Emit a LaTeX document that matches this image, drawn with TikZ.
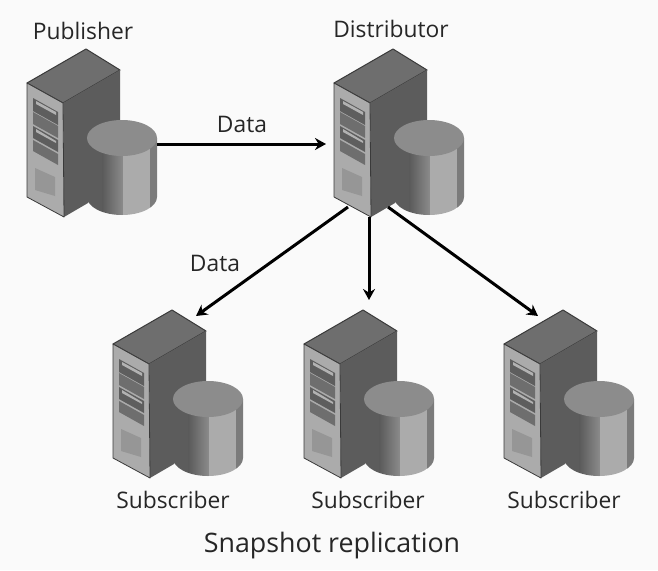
\documentclass[tikz,border=0pt]{standalone}
\usepackage{fontspec}
\setmainfont{Open Sans}
\usetikzlibrary{arrows.meta}
\definecolor{bgc}{HTML}{FAFAFA}
\definecolor{topc}{HTML}{6E6E6E}
\definecolor{sidec}{HTML}{5C5C5C}
\definecolor{frontc}{HTML}{ABABAB}
\definecolor{slotc}{HTML}{5E5E5E}
\definecolor{edgec}{HTML}{3A3A3A}
\definecolor{cyltop}{HTML}{8C8C8C}
\definecolor{cyldark}{HTML}{5A5A5A}
\definecolor{cyllight}{HTML}{ABABAB}
\tikzset{
  lbl/.style={font=\fontsize{22.8}{27}\selectfont, text=black!85, inner sep=0pt},
  flow/.style={line width=3pt, black, -{Stealth[length=11pt,width=12pt]}},
  server/.pic={
    % tower
    \fill[topc,draw=edgec,line width=1pt,line join=round] (0,34) -- (59,0) -- (93,21) -- (36,54) -- cycle;
    \fill[sidec] (36,54) -- (93,21) -- (93,110) -- (61,154) -- (37,168) -- cycle;
    \fill[frontc,draw=edgec,line width=.8pt,line join=round] (0,34) -- (36,54) -- (37,168) -- (0,148) -- cycle;
    % drive slots
    \fill[slotc] (6,49) -- (31,63) -- (31,76) -- (6,62) -- cycle;
    \fill[slotc!90] (6,63) -- (31,77) -- (31,89) -- (6,75) -- cycle;
    \fill[slotc] (6,77) -- (31,91) -- (31,103) -- (6,89) -- cycle;
    \fill[slotc!90] (6,91) -- (31,105) -- (31,116) -- (6,102) -- cycle;
    \fill[white!70!black] (9,52) -- (29,63) -- (29,66) -- (9,55) -- cycle;
    \fill[white!70!black] (9,80) -- (29,92) -- (29,94) -- (9,83) -- cycle;
    % vent
    \fill[slotc!65] (8,119) -- (28,128) -- (28,147) -- (8,141) -- cycle;
    % cylinder
    \begin{scope}
      \clip (60,89) -- (130,89) -- (130,148) arc[start angle=0,end angle=180,x radius=35,y radius=18] -- cycle;
      \fill[sidec] (55,85) rectangle (75,170);
      \shade[left color=cyldark,right color=cyldark!70] (75,85) rectangle (96,170);
      \fill[cyllight] (96,85) rectangle (123,170);
      \fill[cyldark!80] (123,85) rectangle (132,170);
    \end{scope}
    \fill[cyltop] (95,89) ellipse[x radius=35,y radius=18];
    % connection points
    \coordinate (-out) at (130,95);
    \coordinate (-in) at (-8,95);
    \coordinate (-sw) at (14,158);
    \coordinate (-s) at (35,168);
    \coordinate (-se) at (54,158);
    \coordinate (-nw) at (83,6);
    \coordinate (-n) at (65,-10);
    \coordinate (-ne) at (34,6);
  }
}
\begin{document}
\begin{tikzpicture}[x=1pt,y=-1pt]
\path[use as bounding box,fill=bgc] (0,0) rectangle (658,570);
\pic (pub)  at (27,49)  {server};
\pic (dist) at (334,49) {server};
\pic (sa)   at (113,310) {server};
\pic (sb)   at (304,310) {server};
\pic (sc)   at (504,310) {server};
\node[lbl] (tpub)  at (83,31)  {Publisher};
\node[lbl] (tdist) at (391,29) {Distributor};
\node[lbl] (tdata1) at (242,124) {Data};
\node[lbl] (tdata2) at (215,263) {Data};
\node[lbl] (tsa) at (173,500) {Subscriber};
\node[lbl] (tsb) at (368,500) {Subscriber};
\node[lbl] (tsc) at (564,500) {Subscriber};
\node[lbl,font=\fontsize{26.8}{32}\selectfont] (ttitle) at (332,546) {Snapshot replication};
\draw[flow] (pub-out) -- (dist-in);
\draw[flow] (dist-sw) -- (sa-nw);
\draw[flow] (dist-s) -- (sb-n);
\draw[flow] (dist-se) -- (sc-ne);
\end{tikzpicture}
\end{document}
